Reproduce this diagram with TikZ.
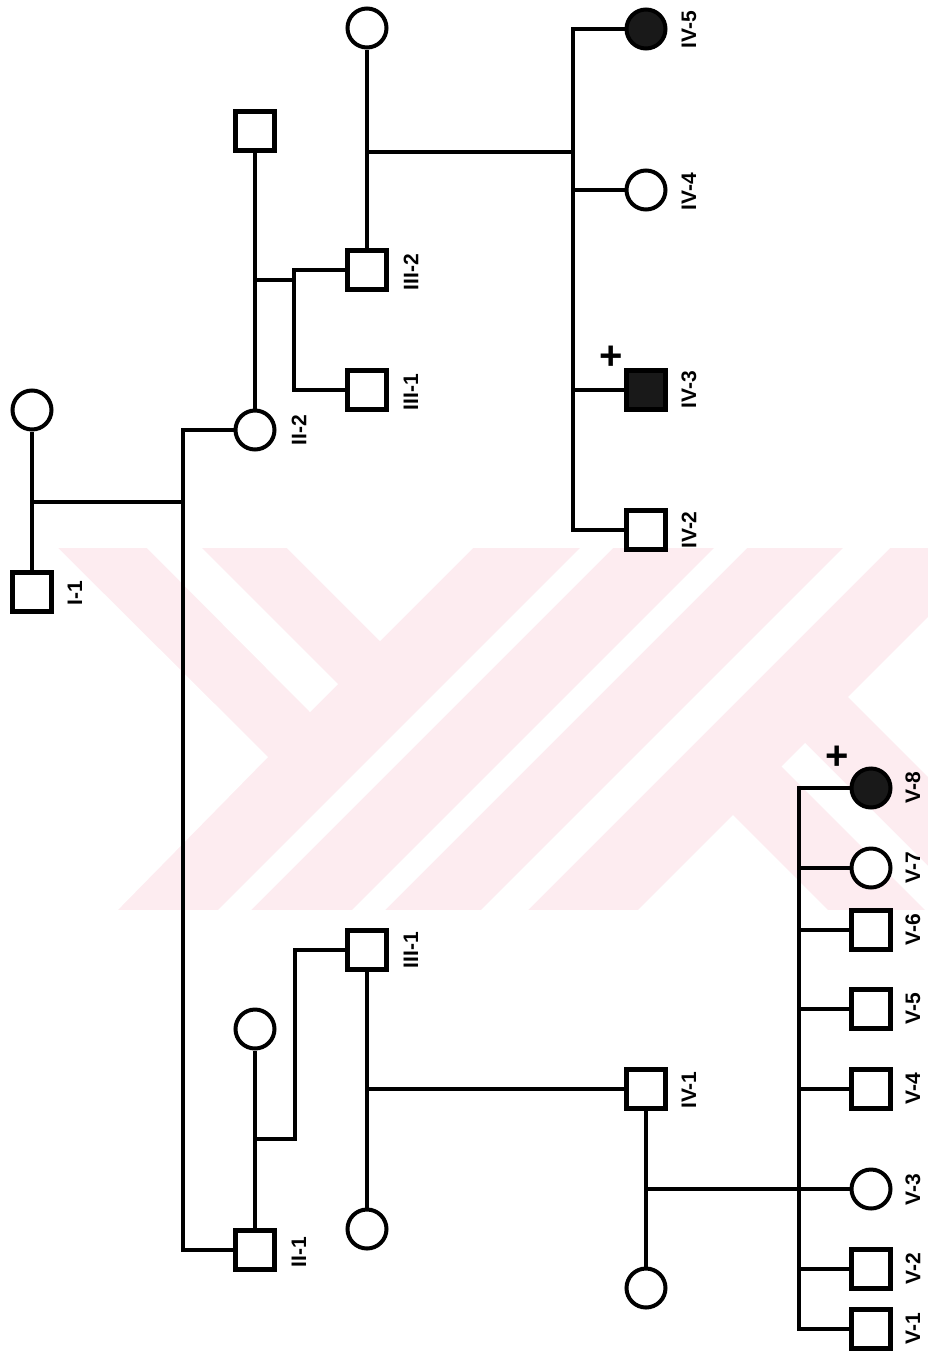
\documentclass[tikz,border=0pt]{standalone}
\usepackage{fontspec}
\setmainfont{Liberation Sans}
\definecolor{wm}{RGB}{253,236,240}
\begin{document}
\begin{tikzpicture}[x=1pt,y=-1pt,
  conn/.style={line width=3.5pt},
  male/.style={draw,line width=4.5pt,rectangle,minimum size=39pt,inner sep=0pt,fill=white},
  female/.style={draw,line width=4pt,circle,minimum size=39pt,inner sep=0pt,fill=white},
  aff/.style={fill=black!90},
  lab/.style={rotate=90,font=\fontsize{21}{21}\selectfont\bfseries,inner sep=0pt},
  dead/.style={font=\fontsize{40}{40}\selectfont\bfseries,inner sep=0pt}]
\useasboundingbox (0,0) rectangle (928,1357);
\fill[white] (0,0) rectangle (928,1357);
% watermark
\begin{scope}
\clip (0,548) rectangle (928,910);
\fill[wm] (0,548) rectangle (928,910);
\fill[white] (-10,538) -- (48,538) -- (268,757) -- (108,920) -- (-10,920) -- cycle;
\fill[white] (137,538) -- (192,538) -- (338,684) -- (310,712) -- cycle;
\fill[white] (277,538) -- (380,641) -- (483,538) -- cycle;
\fill[white] (590,538) -- (623,538) -- (241,920) -- (208,920) -- cycle;
\fill[white] (724,538) -- (757,538) -- (375,920) -- (342,920) -- cycle;
\fill[white] (853,538) -- (900,538) -- (518,920) -- (471,920) -- cycle;
\fill[white] (628,920) -- (733,815) -- (838,920) -- cycle;
\fill[white] (781.5,766.5) -- (805,743) -- (990,928) -- (943,928) -- cycle;
\fill[white] (938,607) -- (848,697) -- (938,787) -- cycle;
\end{scope}
% nodes
\node[female] (I1w) at (32,410) {};
\node[male] (I1) at (32,592) {};
\node[male] (H2) at (255,131) {};
\node[female] (II2) at (255,430) {};
\node[female] (W3) at (367,28) {};
\node[male] (III2) at (367,270) {};
\node[male] (III1a) at (367,390) {};
\node[female,aff] (IV5) at (646,29) {};
\node[female] (IV4) at (646,190) {};
\node[male,aff] (IV3) at (646,390) {};
\node[male] (IV2) at (646,530) {};
\node[female] (W2) at (255,1029) {};
\node[male] (II1) at (255,1250) {};
\node[male] (III1b) at (367,950) {};
\node[female] (W4) at (367,1229) {};
\node[male] (IV1) at (646,1089) {};
\node[female] (W5) at (646,1288) {};
\node[female,aff] (V8) at (871,788) {};
\node[female] (V7) at (871,868) {};
\node[male] (V6) at (871,930) {};
\node[male] (V5) at (871,1009) {};
\node[male] (V4) at (871,1089) {};
\node[female] (V3) at (871,1189) {};
\node[male] (V2) at (871,1269) {};
\node[male] (V1) at (871,1329) {};
% coordinates
\coordinate (m1) at (32,502);
\coordinate (s1) at (183,1250);
\coordinate (m2) at (255,280);
\coordinate (s2) at (294,390);
\coordinate (m3) at (367,152);
\coordinate (s3) at (573,530);
\coordinate (m4) at (255,1139);
\coordinate (c4) at (295,950);
\coordinate (m5) at (367,1089);
\coordinate (m6) at (646,1189);
\coordinate (s6) at (799,1329);
% connectors
\draw[conn] (I1w) -- (I1);
\draw[conn] (m1) -- (m1 -| s1);
\draw[conn] (II2.west) -| (s1) -- (II1.west);
\draw[conn] (H2) -- (II2);
\draw[conn] (m2) -- (m2 -| s2);
\draw[conn] (III2.west) -| (s2) -- (III1a.west);
\draw[conn] (W3) -- (III2);
\draw[conn] (m3) -- (m3 -| s3);
\draw[conn] (IV5.west) -| (s3) -- (IV2.west);
\draw[conn] (IV4.west) -- (IV4.west -| s3);
\draw[conn] (IV3.west) -- (IV3.west -| s3);
\draw[conn] (W2) -- (II1);
\draw[conn] (m4) -| (c4) -- (III1b.west);
\draw[conn] (III1b) -- (W4);
\draw[conn] (m5) -- (IV1.west);
\draw[conn] (IV1) -- (W5);
\draw[conn] (m6) -- (V3.west);
\draw[conn] (V8.west) -| (s6) -- (V1.west);
\foreach \n in {V7,V6,V5,V4,V2} {\draw[conn] (\n.west) -- (\n.west -| s6);}
% labels
\node[lab] (lI1) at (75,593) {I-1};
\node[lab] (lII2) at (299,430) {II-2};
\node[lab] (lII1) at (299,1252) {II-1};
\node[lab] (lIII2) at (411,272) {III-2};
\node[lab] (lIII1a) at (411,392) {III-1};
\node[lab] (lIII1b) at (411,950) {III-1};
\node[lab] (lIV5) at (689,30) {IV-5};
\node[lab] (lIV4) at (689,192) {IV-4};
\node[lab] (lIV3) at (689,390) {IV-3};
\node[lab] (lIV2) at (689,530) {IV-2};
\node[lab] (lIV1) at (689,1090) {IV-1};
\node[lab] (lV8) at (913,788) {V-8};
\node[lab] (lV7) at (913,868) {V-7};
\node[lab] (lV6) at (913,930) {V-6};
\node[lab] (lV5) at (913,1009) {V-5};
\node[lab] (lV4) at (913,1089) {V-4};
\node[lab] (lV3) at (913,1190) {V-3};
\node[lab] (lV2) at (913,1269) {V-2};
\node[lab] (lV1) at (913,1329) {V-1};
\node[dead] (d1) at (611,358) {+};
\node[dead] (d2) at (837,758) {+};
\end{tikzpicture}
\end{document}
